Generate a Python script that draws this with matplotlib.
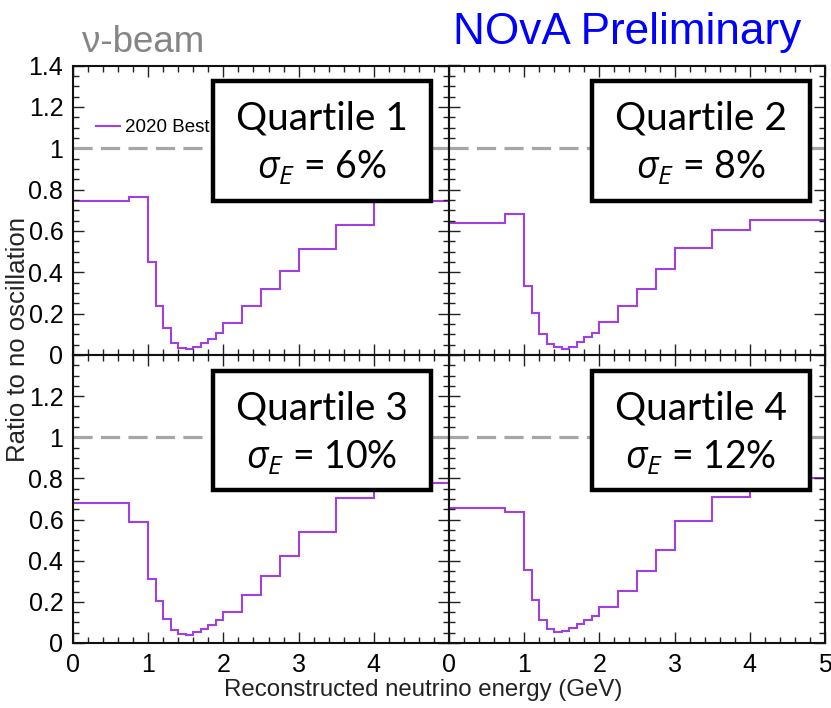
import matplotlib
matplotlib.use("Agg")
import matplotlib.pyplot as plt
from matplotlib.patches import Rectangle
from matplotlib.ticker import MultipleLocator, FixedLocator

# Binning and ratio values
edges = [0, 0.75, 1.0, 1.1, 1.2, 1.3, 1.4, 1.5, 1.6, 1.7, 1.8, 1.9, 2.0,
         2.25, 2.5, 2.75, 3.0, 3.5, 4.0, 5.0]
q1 = [0.746, 0.766, 0.45, 0.239, 0.129, 0.058, 0.032, 0.027, 0.040, 0.056,
      0.077, 0.105, 0.155, 0.237, 0.318, 0.408, 0.513, 0.63, 0.746]
q2 = [0.637, 0.684, 0.334, 0.202, 0.102, 0.052, 0.037, 0.031, 0.040, 0.065,
      0.086, 0.108, 0.158, 0.239, 0.321, 0.416, 0.519, 0.605, 0.653]
q3 = [0.682, 0.589, 0.312, 0.206, 0.119, 0.062, 0.042, 0.037, 0.052, 0.067,
      0.088, 0.112, 0.153, 0.231, 0.325, 0.425, 0.539, 0.703, 0.779]
q4 = [0.657, 0.635, 0.357, 0.209, 0.112, 0.067, 0.054, 0.058, 0.075, 0.093,
      0.112, 0.133, 0.175, 0.255, 0.352, 0.45, 0.594, 0.709, 0.802]
series = [q1, q2, q3, q4]
quartiles = ["Quartile 1", "Quartile 2", "Quartile 3", "Quartile 4"]
resolutions = ["6%", "8%", "10%", "12%"]
legend_label = "2020 Best fit"
xlabels_bl = [0, 1, 2, 3, 4]
xlabels_br = [0, 1, 2, 3, 4, 5]
ylabels_top = [0, 0.2, 0.4, 0.6, 0.8, 1, 1.2, 1.4]
ylabels_bot = [0, 0.2, 0.4, 0.6, 0.8, 1, 1.2]

plt.rcParams['font.family'] = ['Liberation Sans', 'DejaVu Sans']
plt.rcParams['mathtext.fontset'] = 'custom'
plt.rcParams['mathtext.it'] = 'Open Sans:italic'
plt.rcParams['mathtext.rm'] = 'Open Sans'

W, H = 831, 708
fig = plt.figure(figsize=(W / 100, H / 100), dpi=100)

purple = '#a23fe0'

# pixel layout of the four panels (left, top, right, bottom)
boxes = [(73, 65.5, 449, 355), (449, 65.5, 825, 355),
         (73, 355, 449, 643), (449, 355, 825, 643)]
qbox = [(0.372, 0.532, 0.952, 0.946), (0.380, 0.532, 0.960, 0.946),
        (0.372, 0.530, 0.952, 0.944), (0.380, 0.530, 0.960, 0.944)]

for i, (l, t, r, b) in enumerate(boxes):
    ax = fig.add_axes([l / W, 1 - b / H, (r - l) / W, (b - t) / H])
    ax.stairs(series[i], edges, baseline=None, color=purple, lw=1.5,
              label=legend_label)
    ax.axhline(1.0, color='#a6a6a6', lw=2.3, dashes=(6, 2.6))
    ax.set_xlim(0, 5)
    ax.set_ylim(0, 1.4)

    ax.xaxis.set_major_locator(MultipleLocator(1))
    ax.xaxis.set_minor_locator(MultipleLocator(0.2))
    ax.yaxis.set_major_locator(MultipleLocator(0.2))
    ax.yaxis.set_minor_locator(MultipleLocator(0.05))
    ax.tick_params(which='both', direction='in', top=True, right=True,
                   width=1.0, color='#222222')
    ax.tick_params(which='major', length=8)
    ax.tick_params(which='minor', length=4.5)
    ax.tick_params(axis='both', labelsize=18, pad=7)
    for s in ax.spines.values():
        s.set_linewidth(1.5)
        s.set_color('#111111')

    # tick labels only on outer sides
    if i == 0:
        ax.yaxis.set_major_locator(FixedLocator(ylabels_top))
        ax.set_yticklabels([f"{v:g}" for v in ylabels_top])
    elif i == 2:
        ax.yaxis.set_major_locator(FixedLocator(ylabels_top))
        ax.set_yticklabels([f"{v:g}" for v in ylabels_bot] + [""])
    else:
        ax.set_yticklabels([])
    if i == 2:
        ax.xaxis.set_major_locator(FixedLocator(xlabels_br))
        ax.set_xticklabels([str(v) for v in xlabels_bl] + [""])
    elif i == 3:
        ax.xaxis.set_major_locator(FixedLocator(xlabels_br))
        ax.set_xticklabels([str(v) for v in xlabels_br])
    else:
        ax.set_xticklabels([])

    if i == 0:
        ax.legend(loc='upper left', bbox_to_anchor=(0.04, 0.84), frameon=False,
                  fontsize=13.5, handlelength=1.3, handletextpad=0.25,
                  borderaxespad=0)

    x0, y0, x1, y1 = qbox[i]
    ax.add_patch(Rectangle((x0, y0), x1 - x0, y1 - y0, transform=ax.transAxes,
                           facecolor='white', edgecolor='black', lw=3.2,
                           joinstyle='miter', zorder=10, clip_on=False))
    xc = (x0 + x1) / 2
    hgt = y1 - y0
    ax.text(xc, y1 - 0.31 * hgt, quartiles[i], transform=ax.transAxes,
            ha='center', va='center', fontsize=28, family='Lato', zorder=11)
    ax.text(xc, y1 - 0.725 * hgt, r'$\sigma_E$ = ' + resolutions[i],
            transform=ax.transAxes, ha='center', va='center', fontsize=27,
            family='Lato', zorder=11)

fig.text(82 / W, 1 - 52 / H, 'ν-beam', color='#858585', fontsize=26.5,
         ha='left', va='baseline')
fig.text(453 / W, 1 - 44 / H, 'NOvA Preliminary', color='#0000ff',
         fontsize=31.8, ha='left', va='baseline')
fig.text(423 / W, 1 - 690 / H, 'Reconstructed neutrino energy (GeV)',
         fontsize=17.3, ha='center', va='center', color='#222222')
fig.text(18 / W, 1 - 340 / H, 'Ratio to no oscillation', rotation=90,
         fontsize=18.5, ha='center', va='center', color='#222222')

fig.savefig('out.png', dpi=100)
